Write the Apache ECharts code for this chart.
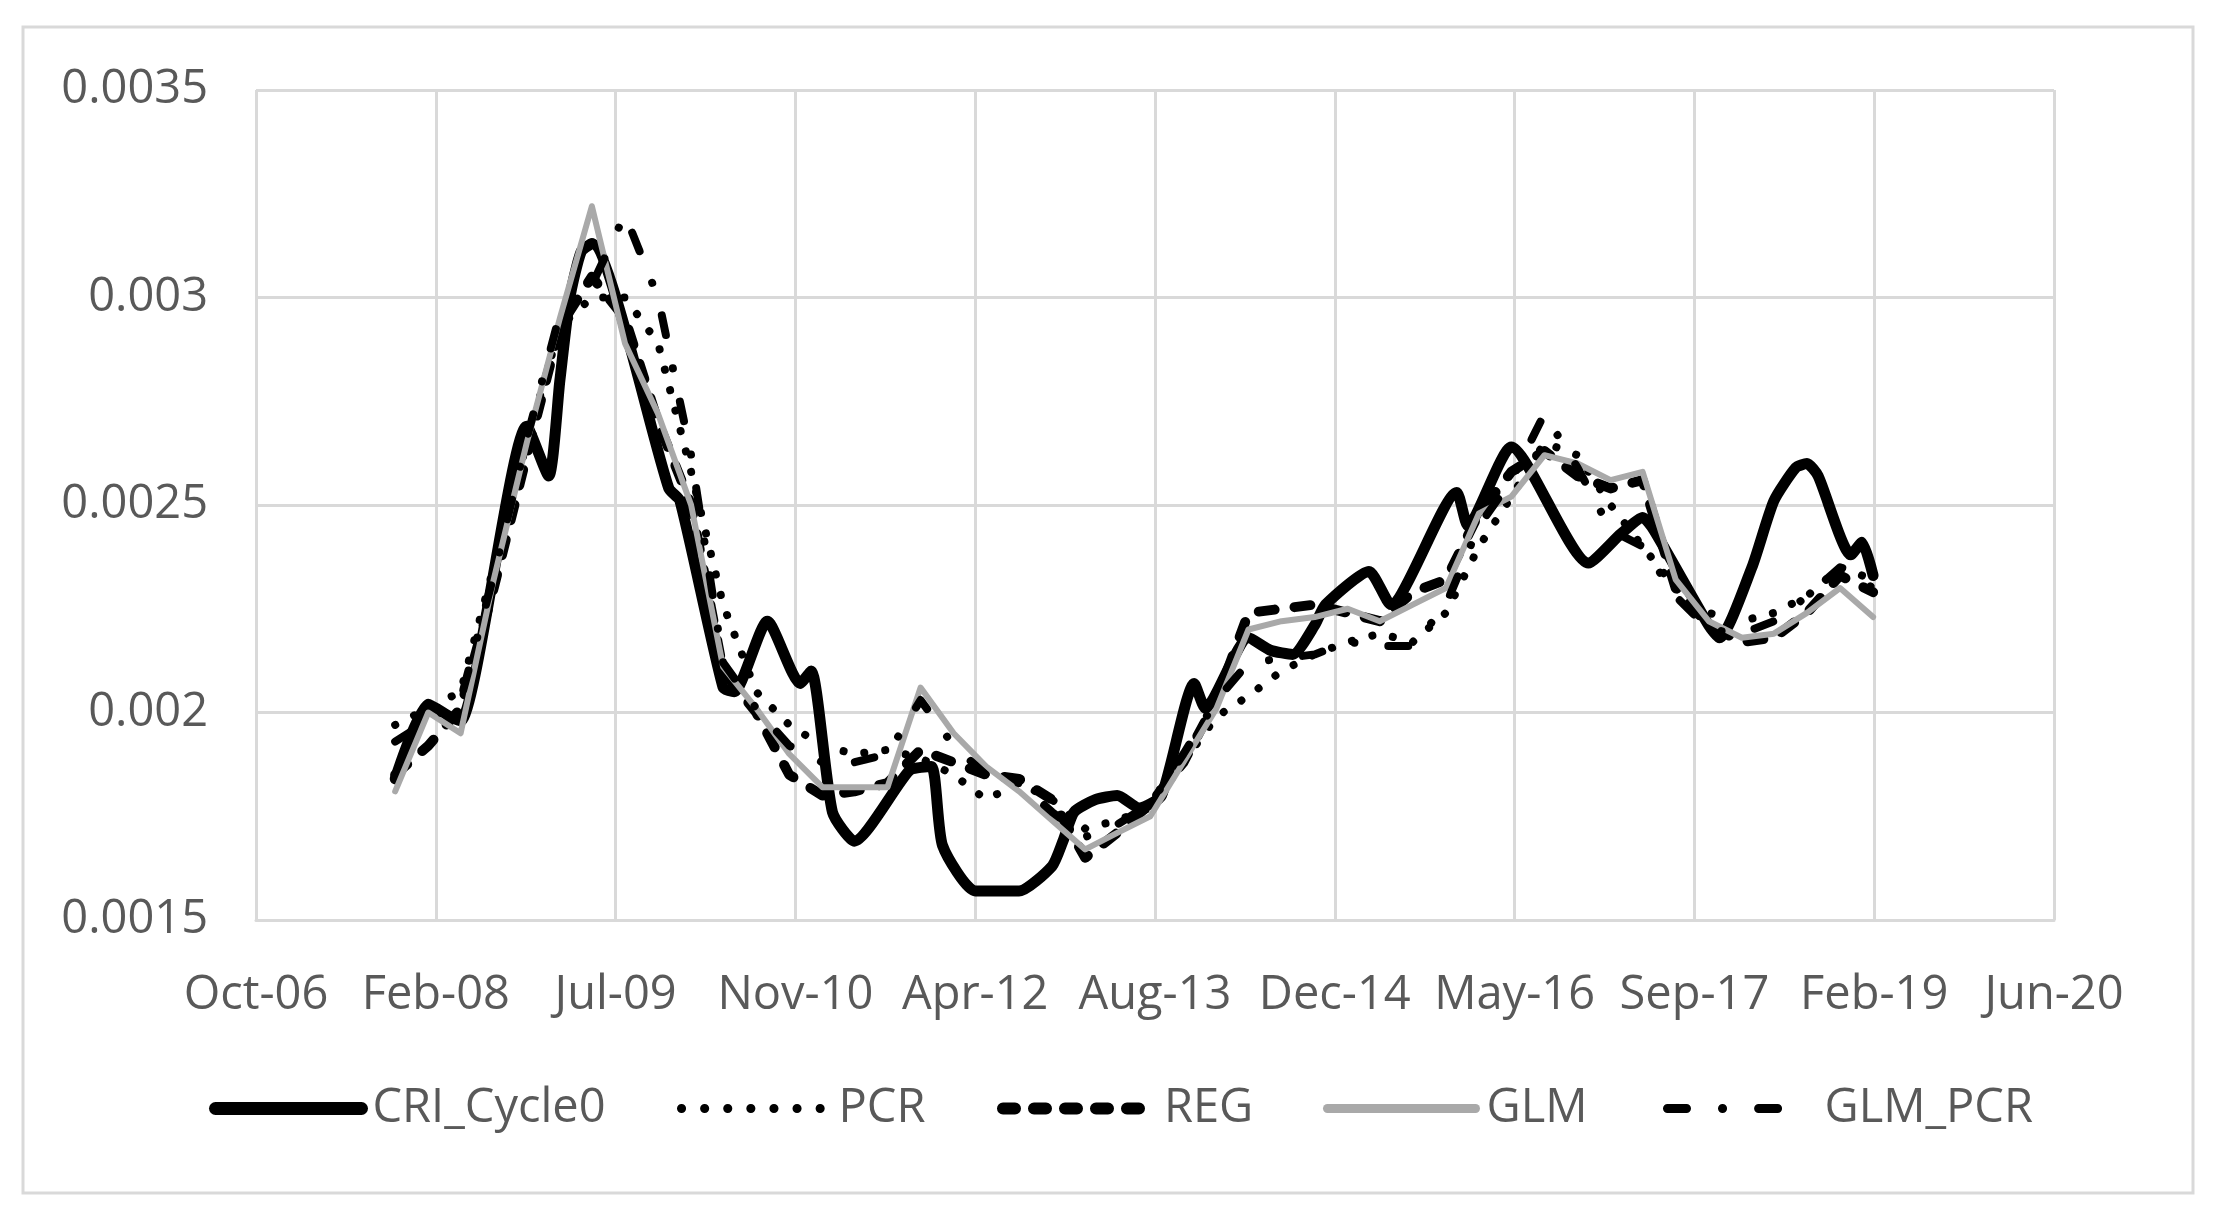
<!DOCTYPE html>
<html>
<head>
<meta charset="utf-8">
<script src="https://cdn.jsdelivr.net/npm/echarts@6/dist/echarts.min.js"></script>
<style>
html,body{margin:0;padding:0;background:#fff;}
#chart{width:2218px;height:1216px;}
</style>
</head>
<body>
<div id="chart"></div>
<script>
// ---- data ----
const quarterDates = ['2007-11','2008-02','2008-05','2008-08','2008-11','2009-02','2009-05','2009-08','2009-11','2010-02',
 '2010-05','2010-08','2010-11','2011-02','2011-05','2011-08','2011-11','2012-02','2012-05','2012-08',
 '2012-11','2013-02','2013-05','2013-08','2013-11','2014-02','2014-05','2014-08','2014-11','2015-02',
 '2015-05','2015-08','2015-11','2016-02','2016-05','2016-08','2016-11','2017-02','2017-05','2017-08',
 '2017-11','2018-02','2018-05','2018-08','2018-11','2019-02'];

const criDates = ['2007-11','2008-02','2008-04','2008-05','2008-11','2009-01','2009-02','2009-03','2009-04','2009-05',
 '2009-12','2010-01','2010-05','2010-06','2010-09','2010-12','2011-01','2011-03','2011-05','2011-10',
 '2011-12','2012-01','2012-04','2012-08','2012-11','2012-12','2013-01','2013-03','2013-05','2013-07',
 '2013-09','2013-12','2014-01','2014-05','2014-07','2014-09','2014-11','2014-12','2015-04','2015-06',
 '2015-12','2016-01','2016-05','2016-12','2017-03','2017-05','2017-06','2017-11','2017-12','2018-03',
 '2018-05','2018-07','2018-08','2018-09','2018-12','2019-01','2019-02'];
const criValues = [0.00184,0.00202,0.00199,0.00198,0.00269,0.00257,0.00280,0.00300,0.00311,0.00313,
 0.00254,0.00251,0.00206,0.00205,0.00222,0.00207,0.00210,0.00176,0.00169,0.00186,
 0.00187,0.00168,0.00157,0.00157,0.00163,0.00169,0.00176,0.00179,0.00180,0.00177,
 0.00180,0.00207,0.00201,0.00218,0.00215,0.00214,0.00221,0.00226,0.00234,0.00226,
 0.00253,0.00245,0.00264,0.00236,0.00243,0.00247,0.00244,0.00221,0.00218,0.00235,
 0.00251,0.00259,0.00260,0.00257,0.00238,0.00241,0.00233];

const pcrValues = [0.00197,0.00201,0.00205,0.00235,0.00265,0.00293,0.00300,0.00300,0.00289,0.00258,
 0.00226,0.00205,0.00197,0.00192,0.00190,0.00191,0.00189,0.00185,0.00179,0.00183,
 0.00179,0.00172,0.00174,0.00177,0.00188,0.00199,0.00204,0.00210,0.00214,0.00217,
 0.00219,0.00217,0.00224,0.00240,0.00252,0.00265,0.00262,0.00250,0.00240,0.00230,
 0.00224,0.00222,0.00224,0.00228,0.00235,0.00232];

const regValues = [0.00185,0.00192,0.00201,0.00230,0.00262,0.00293,0.00305,0.00295,0.00270,0.00250,
 0.00210,0.00200,0.00185,0.00180,0.00181,0.00183,0.00191,0.00188,0.00185,0.00184,
 0.00179,0.00165,0.00171,0.00178,0.00188,0.00203,0.00224,0.00225,0.00226,0.00224,
 0.00222,0.00229,0.00232,0.00248,0.00258,0.00263,0.00257,0.00254,0.00256,0.00230,
 0.00221,0.00217,0.00218,0.00224,0.00233,0.00229];

const glmValues = [0.00181,0.00200,0.00195,0.00232,0.00265,0.00295,0.00322,0.00289,0.00272,0.00250,
 0.00211,0.00201,0.00190,0.00182,0.00182,0.00182,0.00206,0.00195,0.00187,0.00181,
 0.00174,0.00167,0.00171,0.00175,0.00188,0.00201,0.00220,0.00222,0.00223,0.00225,
 0.00222,0.00226,0.00230,0.00248,0.00252,0.00262,0.00260,0.00256,0.00258,0.00232,
 0.00222,0.00218,0.00219,0.00224,0.00230,0.00223];

const glmPcrValues = [0.00193,0.00198,0.00203,0.00233,0.00266,0.00296,0.00303,0.00320,0.00300,0.00262,
 0.00212,0.00201,0.00192,0.00188,0.00188,0.00190,0.00203,0.00192,0.00185,0.00183,
 0.00176,0.00170,0.00173,0.00178,0.00190,0.00203,0.00212,0.00213,0.00214,0.00217,
 0.00216,0.00216,0.00226,0.00245,0.00256,0.00272,0.00259,0.00244,0.00240,0.00228,
 0.00220,0.00219,0.00222,0.00228,0.00235,0.00230];

const seriesNames = ['CRI_Cycle0','PCR','REG','GLM','GLM_PCR'];
const yTicks = {min:0.0015, max:0.0035, step:0.0005};
const xTicks = {min:39000, max:44000, step:500}; // Excel day serials (Oct-06 ... Jun-20)
const monthNames = ['Jan','Feb','Mar','Apr','May','Jun','Jul','Aug','Sep','Oct','Nov','Dec'];

// ---- helpers ----
const EPOCH = Date.UTC(1899,11,30);
function toSerial(s){ const [y,m] = s.split('-').map(Number); return (Date.UTC(y,m-1,1)-EPOCH)/86400000; }
function pairs(dates, vals){ return dates.map((d,i)=>[toSerial(d), vals[i]]); }
function fmtDate(v){ const d = new Date(EPOCH + Math.round(v)*86400000); return monthNames[d.getUTCMonth()] + '-' + String(d.getUTCFullYear()%100).padStart(2,'0'); }

const FONT = '"Open Sans", "Noto Sans", sans-serif';
const TXT = '#595959';

const styles = {
  'CRI_Cycle0': {color:'#000000', width:11, type:'solid'},
  'PCR':        {color:'#000000', width:8,  type:[0.1, 21]},
  'REG':        {color:'#000000', width:10, type:[16, 20]},
  'GLM':        {color:'#A9A9A9', width:6,  type:'solid'},
  'GLM_PCR':    {color:'#000000', width:8,  type:[20, 34, 0.1, 34]}
};
const legendStyles = {
  'CRI_Cycle0': {width:13, type:'solid'},
  'PCR':        {width:9,  type:[0.1, 23]},
  'REG':        {width:12, type:[12, 19]},
  'GLM':        {width:9,  type:'solid'},
  'GLM_PCR':    {width:9,  type:[19, 36, 0.1, 36, 19, 300]}
};
const seriesData = {
  'CRI_Cycle0': pairs(criDates, criValues),
  'PCR': pairs(quarterDates, pcrValues),
  'REG': pairs(quarterDates, regValues),
  'GLM': pairs(quarterDates, glmValues),
  'GLM_PCR': pairs(quarterDates, glmPcrValues)
};

const legendLeft = [204, 672, 992, 1318, 1658];
const legendWidth = [146, 146, 150, 148, 146];

const chart = echarts.init(document.getElementById('chart'), null, {renderer:'canvas'});
chart.setOption({
  backgroundColor:'#ffffff',
  animation:false,
  graphic:[{type:'rect', shape:{x:23,y:27,width:2170,height:1166}, style:{fill:'none', stroke:'#D9D9D9', lineWidth:3}, z:-1}],
  grid:{left:256, right:164, top:90, bottom:296, containLabel:false},
  xAxis:{
    type:'value', min:xTicks.min, max:xTicks.max, interval:xTicks.step,
    axisLine:{show:true, lineStyle:{color:'#D9D9D9', width:3}},
    axisTick:{show:false},
    splitLine:{show:true, lineStyle:{color:'#D9D9D9', width:3}},
    axisLabel:{formatter:fmtDate, color:TXT, fontFamily:FONT, fontSize:47, margin:50, lineHeight:52}
  },
  yAxis:{
    type:'value', min:yTicks.min, max:yTicks.max, interval:yTicks.step,
    axisLine:{show:false}, axisTick:{show:false},
    splitLine:{show:true, lineStyle:{color:'#D9D9D9', width:3}},
    axisLabel:{formatter:v=>String(+v.toFixed(4)), color:TXT, fontFamily:FONT, fontSize:47, margin:48}
  },
  legend: seriesNames.map((n,i)=>({
    data:[n], left:legendLeft[i], top:1080, itemWidth:legendWidth[i], itemHeight:14, itemGap:0,
    textStyle:{color:TXT, fontFamily:FONT, fontSize:47, padding:[0,0,0,6]},
    itemStyle:{color:'rgba(0,0,0,0)', borderWidth:0, opacity:0},
    lineStyle:{color:styles[n].color, width:legendStyles[n].width, type:legendStyles[n].type, cap:'round', opacity:1}
  })),
  series: seriesNames.map(n=>({
    name:n, type:'line', data:seriesData[n], showSymbol:false, symbol:'none',
    smooth: n==='CRI_Cycle0' ? 0.2 : false,
    lineStyle:{color:styles[n].color, width:styles[n].width, type:styles[n].type, cap:'round', join:'round'},
    itemStyle:{color:styles[n].color}
  }))
});
</script>
</body>
</html>
